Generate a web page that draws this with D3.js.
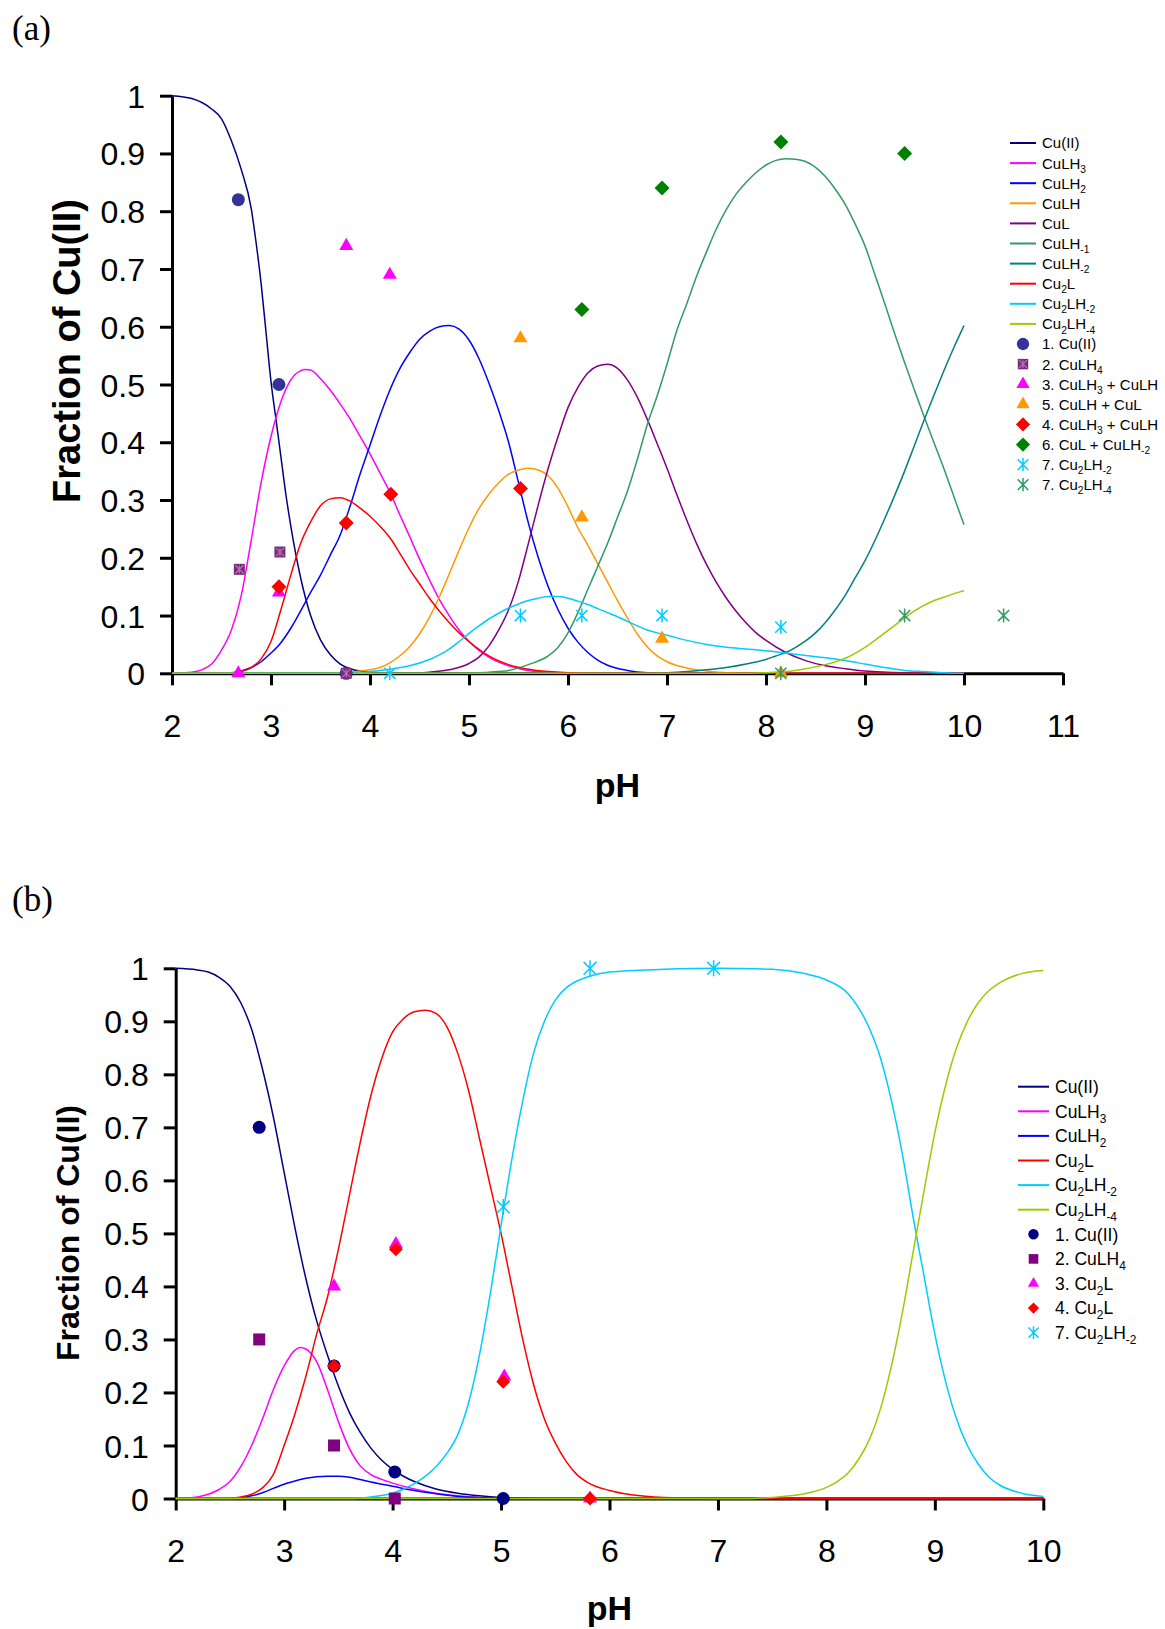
<!DOCTYPE html>
<html>
<head>
<meta charset="utf-8">
<script src="https://cdnjs.cloudflare.com/ajax/libs/d3/7.8.5/d3.min.js"></script>
<style>
  body { margin: 0; background: #fff; }
  svg text { font-family: Arial, "Liberation Sans", sans-serif; }
</style>
</head>
<body>
<div id="chart"></div>
<script>
// ---------- shared ticks
const yTicks = [0, 0.1, 0.2, 0.3, 0.4, 0.5, 0.6, 0.7, 0.8, 0.9, 1];
const aXTicks = [2, 3, 4, 5, 6, 7, 8, 9, 10, 11];
const bXTicks = [2, 3, 4, 5, 6, 7, 8, 9, 10];

// ---------- panel (a): calculated curves, [pH, fraction]
const aCuII = [[2,1],[2.2,0.995],[2.4,0.977],[2.5,0.96],[2.6,0.922],[2.7,0.872],[2.8,0.805],[2.85,0.745],[2.9,0.675],[2.95,0.59],[3.0,0.505],[3.05,0.44],[3.1,0.375],[3.15,0.31],[3.2,0.255],[3.3,0.165],[3.4,0.1],[3.5,0.058],[3.6,0.032],[3.7,0.016],[3.8,0.008],[3.9,0.004],[4.1,0.001],[4.5,0],[10,0]];
const aCuLH3 = [[2,0],[2.2,0.002],[2.3,0.006],[2.4,0.016],[2.5,0.04],[2.6,0.075],[2.7,0.135],[2.8,0.23],[2.9,0.33],[3.0,0.41],[3.1,0.47],[3.2,0.508],[3.3,0.524],[3.35,0.526],[3.4,0.525],[3.5,0.51],[3.6,0.49],[3.7,0.466],[3.8,0.44],[3.9,0.41],[4.0,0.38],[4.1,0.347],[4.2,0.314],[4.3,0.275],[4.4,0.237],[4.5,0.198],[4.6,0.162],[4.7,0.128],[4.8,0.1],[4.9,0.075],[5.0,0.055],[5.2,0.028],[5.4,0.013],[5.6,0.005],[5.8,0.002],[6.2,0],[10,0]];
const aCuLH2 = [[2,0],[2.6,0.001],[2.7,0.004],[2.8,0.01],[2.9,0.02],[3.0,0.035],[3.1,0.053],[3.2,0.078],[3.3,0.108],[3.4,0.14],[3.5,0.17],[3.6,0.205],[3.7,0.24],[3.8,0.29],[3.9,0.345],[4.0,0.395],[4.1,0.445],[4.2,0.49],[4.3,0.527],[4.4,0.555],[4.5,0.578],[4.6,0.592],[4.7,0.6],[4.8,0.602],[4.9,0.596],[5.0,0.577],[5.1,0.545],[5.2,0.503],[5.3,0.455],[5.4,0.4],[5.5,0.33],[5.6,0.26],[5.7,0.2],[5.8,0.15],[5.9,0.11],[6.0,0.078],[6.1,0.054],[6.2,0.036],[6.3,0.023],[6.4,0.014],[6.6,0.005],[6.8,0.001],[7,0],[10,0]];
const aCuLH = [[2,0],[3.6,0],[3.8,0.002],[4.0,0.006],[4.1,0.01],[4.2,0.018],[4.3,0.03],[4.4,0.046],[4.5,0.068],[4.6,0.097],[4.7,0.132],[4.8,0.172],[4.9,0.213],[5.0,0.252],[5.1,0.285],[5.2,0.31],[5.3,0.33],[5.4,0.345],[5.5,0.352],[5.6,0.355],[5.7,0.352],[5.8,0.342],[5.9,0.32],[6.0,0.288],[6.1,0.252],[6.2,0.222],[6.3,0.19],[6.4,0.158],[6.5,0.126],[6.6,0.096],[6.7,0.068],[6.8,0.046],[6.9,0.03],[7.0,0.02],[7.2,0.009],[7.4,0.004],[7.6,0.001],[8,0],[10,0]];
const aCuL = [[2,0],[4.4,0],[4.6,0.002],[4.8,0.006],[5.0,0.017],[5.1,0.028],[5.2,0.047],[5.3,0.075],[5.4,0.11],[5.5,0.16],[5.6,0.225],[5.7,0.292],[5.8,0.355],[5.9,0.41],[6.0,0.46],[6.1,0.495],[6.2,0.52],[6.3,0.532],[6.4,0.535],[6.5,0.528],[6.6,0.508],[6.7,0.478],[6.8,0.44],[6.9,0.398],[7.0,0.355],[7.1,0.309],[7.2,0.265],[7.3,0.224],[7.4,0.188],[7.5,0.157],[7.6,0.13],[7.7,0.107],[7.8,0.087],[7.9,0.07],[8.0,0.057],[8.2,0.036],[8.4,0.022],[8.6,0.013],[8.8,0.008],[9.0,0.004],[9.4,0.001],[10,0]];
const aCuLHm1 = [[2,0],[5.0,0],[5.2,0.002],[5.4,0.005],[5.6,0.015],[5.8,0.03],[5.9,0.045],[6.0,0.07],[6.1,0.105],[6.2,0.145],[6.3,0.185],[6.4,0.225],[6.5,0.27],[6.6,0.315],[6.7,0.37],[6.8,0.43],[6.9,0.48],[7.0,0.535],[7.1,0.594],[7.2,0.64],[7.3,0.688],[7.4,0.73],[7.5,0.77],[7.6,0.803],[7.7,0.83],[7.8,0.85],[7.9,0.867],[8.0,0.88],[8.1,0.888],[8.2,0.891],[8.3,0.89],[8.4,0.886],[8.5,0.876],[8.6,0.86],[8.7,0.838],[8.8,0.812],[8.9,0.778],[9.0,0.74],[9.1,0.69],[9.2,0.64],[9.3,0.588],[9.4,0.538],[9.5,0.49],[9.6,0.443],[9.7,0.398],[9.8,0.353],[9.9,0.305],[10.0,0.257]];
const aCuLHm2 = [[2,0],[6.8,0],[7.0,0.001],[7.2,0.003],[7.4,0.006],[7.6,0.01],[7.8,0.016],[8.0,0.024],[8.1,0.03],[8.2,0.036],[8.3,0.045],[8.4,0.056],[8.5,0.07],[8.6,0.088],[8.7,0.11],[8.8,0.135],[8.9,0.165],[9.0,0.195],[9.1,0.23],[9.2,0.268],[9.3,0.308],[9.4,0.35],[9.5,0.395],[9.6,0.44],[9.7,0.483],[9.8,0.525],[9.9,0.565],[10.0,0.602]];
const aCu2L = [[2,0],[2.6,0],[2.7,0.003],[2.8,0.01],[2.9,0.025],[3.0,0.055],[3.1,0.11],[3.2,0.17],[3.3,0.225],[3.4,0.262],[3.5,0.29],[3.6,0.302],[3.7,0.304],[3.8,0.298],[3.9,0.286],[4.0,0.272],[4.1,0.255],[4.2,0.235],[4.3,0.208],[4.4,0.18],[4.5,0.155],[4.6,0.13],[4.7,0.108],[4.8,0.088],[4.9,0.07],[5.0,0.055],[5.2,0.03],[5.4,0.015],[5.6,0.007],[5.8,0.003],[6.2,0],[10,0]];
const aCu2LHm2 = [[2,0],[3.8,0],[4.0,0.003],[4.2,0.007],[4.4,0.013],[4.6,0.024],[4.7,0.032],[4.8,0.042],[4.9,0.055],[5.0,0.069],[5.1,0.082],[5.2,0.094],[5.3,0.104],[5.4,0.113],[5.5,0.12],[5.6,0.126],[5.7,0.13],[5.8,0.133],[5.9,0.133],[6.0,0.13],[6.1,0.125],[6.2,0.119],[6.3,0.112],[6.4,0.105],[6.5,0.098],[6.6,0.09],[6.7,0.082],[6.8,0.075],[6.9,0.07],[7.0,0.066],[7.2,0.057],[7.4,0.05],[7.6,0.045],[7.8,0.042],[8.0,0.039],[8.2,0.035],[8.4,0.031],[8.6,0.027],[8.8,0.022],[9.0,0.016],[9.2,0.01],[9.4,0.005],[9.6,0.003],[9.8,0.001],[10,0]];
const aCu2LHm4 = [[2,0],[7.8,0],[8.0,0.001],[8.2,0.003],[8.4,0.008],[8.6,0.015],[8.8,0.026],[9.0,0.045],[9.1,0.057],[9.2,0.07],[9.3,0.083],[9.4,0.096],[9.5,0.108],[9.6,0.118],[9.7,0.126],[9.8,0.132],[9.9,0.138],[10.0,0.143]];

// ---------- panel (a): experimental points, [pH, fraction]
const aExp1 = [[2.67,0.82],[3.08,0.50],[3.76,0]];
const aExp2 = [[2.68,0.18],[3.09,0.21],[3.76,0]];
const aExp3 = [[2.67,0],[3.08,0.14],[3.76,0.74],[4.2,0.69]];
const aExp5 = [[5.52,0.58],[6.14,0.27],[6.95,0.06],[8.15,0]];
const aExp4 = [[3.08,0.15],[3.76,0.26],[4.21,0.31],[5.52,0.32]];
const aExp6 = [[6.14,0.63],[6.95,0.84],[8.15,0.92],[9.4,0.90]];
const aExp7 = [[4.2,0],[5.52,0.10],[6.14,0.10],[6.95,0.10],[8.15,0.08]];
const aExp8 = [[8.15,0],[9.4,0.10],[10.4,0.10]];

// ---------- panel (b): calculated curves, [pH, fraction]
const bCuII = [[2,1],[2.2,0.997],[2.3,0.993],[2.4,0.983],[2.5,0.966],[2.6,0.935],[2.7,0.885],[2.8,0.81],[2.9,0.72],[3.0,0.615],[3.1,0.51],[3.2,0.415],[3.3,0.335],[3.4,0.27],[3.5,0.212],[3.6,0.163],[3.7,0.125],[3.8,0.095],[3.9,0.072],[4.0,0.055],[4.1,0.042],[4.2,0.032],[4.4,0.018],[4.6,0.01],[4.8,0.005],[5.0,0.002],[5.4,0],[10,0]];
const bCuLH3 = [[2,0],[2.2,0.003],[2.3,0.008],[2.4,0.017],[2.5,0.032],[2.6,0.06],[2.7,0.1],[2.8,0.15],[2.9,0.205],[3.0,0.25],[3.1,0.28],[3.15,0.285],[3.2,0.282],[3.3,0.258],[3.4,0.205],[3.5,0.145],[3.6,0.095],[3.7,0.062],[3.8,0.045],[3.9,0.036],[4.0,0.029],[4.2,0.018],[4.4,0.01],[4.6,0.005],[4.8,0.002],[5.2,0],[10,0]];
const bCuLH2 = [[2,0],[2.5,0],[2.6,0.002],[2.7,0.005],[2.8,0.011],[2.9,0.019],[3.0,0.027],[3.1,0.033],[3.2,0.038],[3.3,0.041],[3.4,0.042],[3.5,0.042],[3.6,0.04],[3.7,0.036],[3.8,0.031],[3.9,0.027],[4.0,0.023],[4.2,0.015],[4.4,0.009],[4.6,0.004],[4.8,0.002],[5.0,0.001],[5.2,0],[10,0]];
const bCu2L = [[2,0],[2.5,0],[2.6,0.003],[2.7,0.008],[2.8,0.02],[2.9,0.045],[3.0,0.1],[3.1,0.16],[3.2,0.23],[3.3,0.31],[3.4,0.38],[3.5,0.47],[3.6,0.57],[3.7,0.67],[3.8,0.76],[3.9,0.83],[4.0,0.88],[4.1,0.905],[4.2,0.918],[4.3,0.921],[4.4,0.915],[4.5,0.89],[4.6,0.84],[4.7,0.77],[4.8,0.68],[4.9,0.59],[5.0,0.5],[5.1,0.4],[5.2,0.3],[5.3,0.215],[5.4,0.15],[5.5,0.105],[5.6,0.07],[5.7,0.045],[5.8,0.03],[6.0,0.015],[6.2,0.007],[6.5,0.002],[7,0],[10,0]];
const bCu2LHm2 = [[2,0],[3.6,0],[3.8,0.003],[4.0,0.01],[4.2,0.028],[4.4,0.06],[4.5,0.085],[4.6,0.12],[4.7,0.18],[4.8,0.27],[4.9,0.385],[5.0,0.515],[5.1,0.64],[5.2,0.75],[5.3,0.84],[5.4,0.9],[5.5,0.94],[5.6,0.963],[5.7,0.976],[5.8,0.984],[6.0,0.993],[6.5,0.998],[7.0,1.0],[7.5,0.998],[7.8,0.99],[8.0,0.978],[8.2,0.952],[8.4,0.885],[8.5,0.83],[8.6,0.75],[8.7,0.65],[8.8,0.53],[8.9,0.42],[9.0,0.31],[9.1,0.22],[9.2,0.15],[9.3,0.1],[9.4,0.065],[9.5,0.04],[9.6,0.025],[9.8,0.01],[10,0.004]];
const bCu2LHm4 = [[2,0],[7.2,0],[7.4,0.001],[7.6,0.004],[7.8,0.009],[8.0,0.021],[8.1,0.032],[8.2,0.048],[8.3,0.075],[8.4,0.113],[8.5,0.17],[8.6,0.25],[8.7,0.35],[8.8,0.465],[8.9,0.58],[9.0,0.69],[9.1,0.78],[9.2,0.85],[9.3,0.9],[9.4,0.935],[9.5,0.958],[9.6,0.973],[9.7,0.983],[9.8,0.99],[9.9,0.994],[10,0.996]];

// ---------- panel (b): experimental points
const bExp1 = [[2.77,0.70],[3.46,0.25],[4.02,0.05],[5.02,0]];
const bExp2 = [[2.77,0.30],[3.46,0.10],[4.02,0]];
const bExp3 = [[3.46,0.40],[4.03,0.48],[5.03,0.23],[5.82,0]];
const bExp4 = [[3.46,0.25],[4.03,0.47],[5.02,0.22],[5.82,0]];
const bExp7 = [[5.02,0.55],[5.82,1.0],[6.96,1.0]];

const svg = d3.select("#chart").append("svg")
    .attr("width", 1165)
    .attr("height", 1629);

// text with _{...} parts as subscripts
function richText(sel, str, size) {
  const parts = str.split(/(_\{[^}]*\})/).filter(s => s.length);
  let shifted = false;
  parts.forEach(p => {
    const t = sel.append("tspan");
    if (p.startsWith("_{")) {
      t.text(p.slice(2, -1)).attr("font-size", size * 0.68).attr("dy", size * 0.28);
      shifted = true;
    } else {
      t.text(p);
      if (shifted) { t.attr("dy", -size * 0.28); shifted = false; }
    }
  });
}

function drawMarker(g, m, cx, cy) {
  const s = m.size;
  if (m.shape === "circle") {
    g.append("circle").attr("cx", cx).attr("cy", cy).attr("r", s).attr("fill", m.color);
  } else if (m.shape === "square") {
    g.append("rect").attr("x", cx - s).attr("y", cy - s).attr("width", 2 * s).attr("height", 2 * s).attr("fill", m.color);
    if (m.inner) {
      const k = s * 0.75;
      g.append("path")
        .attr("d", `M${cx},${cy - k}V${cy + k}M${cx - k},${cy - k}L${cx + k},${cy + k}M${cx + k},${cy - k}L${cx - k},${cy + k}`)
        .attr("stroke", m.inner).attr("stroke-width", 1.2);
    }
  } else if (m.shape === "triangle") {
    const h = s * 1.732;
    g.append("path")
      .attr("d", `M${cx},${cy - h * 2 / 3}L${cx + s},${cy + h / 3}L${cx - s},${cy + h / 3}Z`)
      .attr("fill", m.color);
  } else if (m.shape === "diamond") {
    g.append("path")
      .attr("d", `M${cx},${cy - s}L${cx + s},${cy}L${cx},${cy + s}L${cx - s},${cy}Z`)
      .attr("fill", m.color);
  } else if (m.shape === "star") {
    const k = s * 0.8;
    g.append("path")
      .attr("d", `M${cx},${cy - s}V${cy + s}M${cx - k},${cy - k}L${cx + k},${cy + k}M${cx + k},${cy - k}L${cx - k},${cy + k}`)
      .attr("stroke", m.color).attr("stroke-width", 1.5).attr("fill", "none");
  }
}

function drawPanel(cfg) {
  const g = svg.append("g");
  const x = d3.scaleLinear().domain(cfg.xDomain).range(cfg.xRange);
  const y = d3.scaleLinear().domain([0, 1]).range(cfg.yRange);

  g.append("text")
    .attr("x", 12).attr("y", cfg.tagY)
    .style("font-family", "'Liberation Serif', 'Times New Roman', serif")
    .attr("font-size", 35)
    .text(cfg.tag);

  // axes
  const xAxis = g.append("g")
    .attr("transform", `translate(0,${cfg.yRange[0]})`)
    .call(d3.axisBottom(x).tickValues(cfg.xTicks).tickSize(12).tickSizeOuter(0).tickPadding(29).tickFormat(d3.format("d")));
  const yAxis = g.append("g")
    .attr("transform", `translate(${cfg.xRange[0]},0)`)
    .call(d3.axisLeft(y).tickValues(yTicks).tickSize(12).tickSizeOuter(0).tickPadding(15).tickFormat(d3.format("~g")));
  [xAxis, yAxis].forEach(ax => {
    ax.select(".domain").attr("stroke", "#000").attr("stroke-width", 3);
    ax.selectAll(".tick line").attr("stroke", "#000").attr("stroke-width", 3);
    ax.selectAll(".tick text").attr("font-size", 32).attr("fill", "#000")
      .style("font-family", "Arial, 'Liberation Sans', sans-serif");
  });
  yAxis.selectAll(".tick text").attr("dy", "0.36em");

  // titles
  g.append("text")
    .attr("x", (cfg.xRange[0] + x(cfg.xTicks[cfg.xTicks.length - 1])) / 2)
    .attr("y", cfg.pHY)
    .attr("text-anchor", "middle").attr("font-weight", "bold").attr("font-size", 34)
    .text("pH");
  g.append("text")
    .attr("transform", `translate(${cfg.titleX},${cfg.titleY}) rotate(-90)`)
    .attr("text-anchor", "middle").attr("font-weight", "bold").attr("font-size", cfg.titleSize)
    .text("Fraction of Cu(II)");

  // curves
  const line = d3.line().x(d => x(d[0])).y(d => y(d[1])).curve(d3.curveMonotoneX);
  cfg.lines.forEach(s => {
    g.append("path").attr("d", line(s.data))
      .attr("fill", "none").attr("stroke", s.color).attr("stroke-width", 1.5);
  });

  // points
  cfg.points.forEach(s => {
    const pg = g.append("g");
    s.data.forEach(d => drawMarker(pg, s, x(d[0]), y(d[1])));
  });

  // legend
  const L = cfg.legend;
  const items = cfg.lines.map(s => ({ kind: "line", s })).concat(cfg.points.map(s => ({ kind: "mark", s })));
  items.forEach((it, i) => {
    const yy = L.y + i * L.step;
    if (it.kind === "line") {
      g.append("line").attr("x1", L.x1).attr("x2", L.x2).attr("y1", yy).attr("y2", yy)
        .attr("stroke", it.s.color).attr("stroke-width", 2);
    } else {
      drawMarker(g, Object.assign({}, it.s, { size: it.s.size * L.markScale }), (L.x1 + L.x2) / 2, yy);
    }
    const t = g.append("text").attr("x", L.tx).attr("y", yy + L.font * 0.36).attr("font-size", L.font);
    richText(t, it.s.name, L.font);
  });
}

drawPanel({
  tag: "(a)", tagY: 40,
  xDomain: [2, 11], xRange: [172, 1063], yRange: [673.3, 95.7], xTicks: aXTicks,
  pHY: 797, titleX: 80, titleY: 351, titleSize: 38,
  lines: [
    { name: "Cu(II)", color: "#000080", data: aCuII },
    { name: "CuLH_{3}", color: "#ff00ff", data: aCuLH3 },
    { name: "CuLH_{2}", color: "#0000ff", data: aCuLH2 },
    { name: "CuLH", color: "#ff9900", data: aCuLH },
    { name: "CuL", color: "#800080", data: aCuL },
    { name: "CuLH_{-1}", color: "#339966", data: aCuLHm1 },
    { name: "CuLH_{-2}", color: "#008080", data: aCuLHm2 },
    { name: "Cu_{2}L", color: "#ff0000", data: aCu2L },
    { name: "Cu_{2}LH_{-2}", color: "#00ccff", data: aCu2LHm2 },
    { name: "Cu_{2}LH_{-4}", color: "#99cc00", data: aCu2LHm4 }
  ],
  points: [
    { name: "1. Cu(II)", shape: "circle", color: "#333399", size: 6.5, data: aExp1 },
    { name: "2. CuLH_{4}", shape: "square", color: "#7a2a7a", inner: "#b772b7", size: 5.5, data: aExp2 },
    { name: "3. CuLH_{3} + CuLH", shape: "triangle", color: "#ff00ff", size: 7, data: aExp3 },
    { name: "5. CuLH + CuL", shape: "triangle", color: "#ff9900", size: 7, data: aExp5 },
    { name: "4. CuLH_{3} + CuLH", shape: "diamond", color: "#ff0000", size: 7.5, data: aExp4 },
    { name: "6. CuL + CuLH_{-2}", shape: "diamond", color: "#008000", size: 7.5, data: aExp6 },
    { name: "7. Cu_{2}LH_{-2}", shape: "star", color: "#00ccff", size: 7, data: aExp7 },
    { name: "7. Cu_{2}LH_{-4}", shape: "star", color: "#339966", size: 7, data: aExp8 }
  ],
  legend: { x1: 1010, x2: 1036, tx: 1042, y: 143, step: 20.1, font: 15, markScale: 0.95 }
});

drawPanel({
  tag: "(b)", tagY: 911,
  xDomain: [2, 10], xRange: [175.7, 1043.3], yRange: [1498.5, 968.3], xTicks: bXTicks,
  pHY: 1620, titleX: 79, titleY: 1233, titleSize: 32,
  lines: [
    { name: "Cu(II)", color: "#000080", data: bCuII },
    { name: "CuLH_{3}", color: "#ff00ff", data: bCuLH3 },
    { name: "CuLH_{2}", color: "#0000ff", data: bCuLH2 },
    { name: "Cu_{2}L", color: "#ff0000", data: bCu2L },
    { name: "Cu_{2}LH_{-2}", color: "#00ccff", data: bCu2LHm2 },
    { name: "Cu_{2}LH_{-4}", color: "#99cc00", data: bCu2LHm4 }
  ],
  points: [
    { name: "1. Cu(II)", shape: "circle", color: "#000080", size: 6.5, data: bExp1 },
    { name: "2. CuLH_{4}", shape: "square", color: "#800080", size: 6, data: bExp2 },
    { name: "3. Cu_{2}L", shape: "triangle", color: "#ff00ff", size: 7, data: bExp3 },
    { name: "4. Cu_{2}L", shape: "diamond", color: "#ff0000", size: 7, data: bExp4 },
    { name: "7. Cu_{2}LH_{-2}", shape: "star", color: "#00ccff", size: 8, data: bExp7 }
  ],
  legend: { x1: 1018, x2: 1049, tx: 1055, y: 1086.7, step: 24.6, font: 17.5, markScale: 0.8 }
});
</script>
</body>
</html>
